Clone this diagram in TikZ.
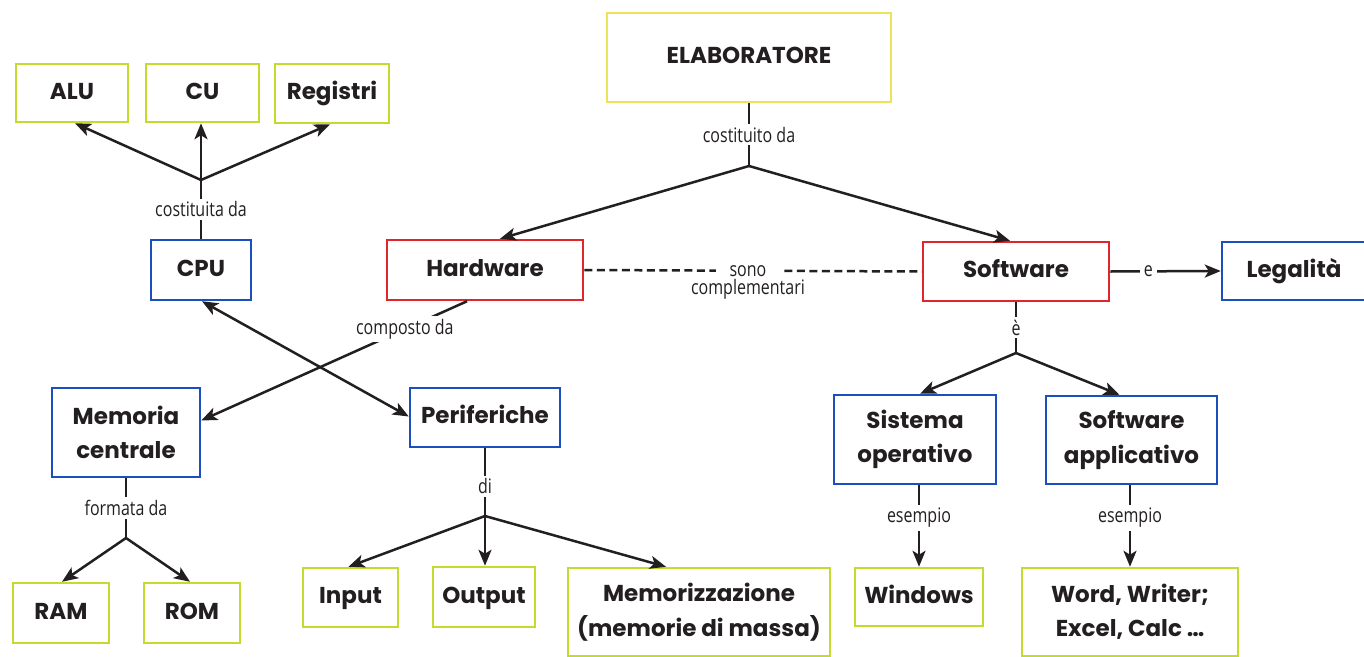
\documentclass[tikz,border=0pt]{standalone}
\usepackage{fontspec}
\setmainfont{Poppins}
\newfontfamily\lblfont{Open Sans}[FakeStretch=0.8]
\usetikzlibrary{arrows.meta,calc}
\definecolor{ink}{HTML}{231F20}
\definecolor{yel}{HTML}{EDE35A}
\definecolor{lime}{HTML}{C5DA2E}
\definecolor{blu}{HTML}{1B4FBF}
\definecolor{rd}{HTML}{E0262A}
\begin{document}
\begin{tikzpicture}[x=1pt,y=-1pt,
  box/.style={draw, line width=2.5pt, fill=white, align=center, inner sep=0pt,
    font=\fontsize{23}{34.5}\selectfont\bfseries, text=ink},
  one/.style={text height=17pt, text depth=5pt},
  ybox/.style={box, draw=yel},
  gbox/.style={box, draw=lime},
  bbox/.style={box, draw=blu},
  rbox/.style={box, draw=rd},
  lbl/.style={fill=white, inner xsep=3pt, inner ysep=3pt, text=ink,
    font=\lblfont\fontsize{20}{24}\selectfont},
  ln/.style={line width=2.5pt, draw=ink},
  arr/.style={ln, -{Stealth[length=16pt,width=13pt,inset=4pt]}},
  dbl/.style={ln, {Stealth[length=16pt,width=13pt,inset=4pt]}-{Stealth[length=16pt,width=13pt,inset=4pt]}}]
\useasboundingbox (0,0) rectangle (1364,656);
\fill[white] (0,0) rectangle (1364,656);

% nodes
\node[ybox, one, minimum width=284, minimum height=89] (elab) at (749,57.5) {ELABORATORE};
\node[rbox, one, minimum width=196, minimum height=60] (hw) at (485,270) {Hardware};
\node[rbox, one, minimum width=186, minimum height=59] (sw) at (1016,271.5) {Software};
\node[bbox, one, minimum width=144, minimum height=58] (leg) at (1294,271) {Legalità};
\node[bbox, minimum width=162, minimum height=89] (so) at (915,439.5) {Sistema\\operativo};
\node[bbox, minimum width=171, minimum height=88] (sa) at (1131.5,440) {Software\\applicativo};
\node[gbox, one, minimum width=128, minimum height=58] (win) at (919,597) {Windows};
\node[gbox, minimum width=216, minimum height=88] (word) at (1130,612) {Word, Writer;\\Excel, Calc \ldots};
\node[gbox, one, minimum width=112, minimum height=58] (alu) at (72,93) {ALU};
\node[gbox, one, minimum width=113, minimum height=58] (cu) at (202.5,93) {CU};
\node[gbox, one, minimum width=114, minimum height=59] (reg) at (332,93.5) {Registri};
\node[bbox, one, minimum width=100, minimum height=60] (cpu) at (201,270) {CPU};
\node[bbox, minimum width=148, minimum height=89] (mc) at (126,432.5) {Memoria\\centrale};
\node[bbox, one, minimum width=150, minimum height=59] (per) at (485,417.5) {Periferiche};
\node[gbox, one, minimum width=96, minimum height=60] (ram) at (61,613) {RAM};
\node[gbox, one, minimum width=96, minimum height=60] (rom) at (192,613) {ROM};
\node[gbox, one, minimum width=95, minimum height=59] (inp) at (350.5,597.5) {Input};
\node[gbox, one, minimum width=102, minimum height=60] (out) at (484,597) {Output};
\node[gbox, minimum width=262, minimum height=88] (mem) at (699,612) {Memorizzazione\\(memorie di massa)};

% junctions
\coordinate (j1) at (749,166);
\coordinate (j2) at (1016,353);
\coordinate (j3) at (201,180);
\coordinate (j4) at (126,538);
\coordinate (j5) at (485,516);

% top
\draw[ln] (elab.south) -- node[lbl]{costituito da} (j1);
\draw[arr] (j1) -- ($(hw.north)+(15,0)$);
\draw[arr] (j1) -- ($(sw.north)+(-6,0)$);
\draw[ln, dash pattern=on 8pt off 4.5pt] (hw.east) -- node[lbl, pos=0.485, inner xsep=14pt, inner ysep=1pt] (sono) {sono} (sw.west);
\node[lbl, fill=none, anchor=north, inner ysep=1pt] (compl) at (sono.south) {complementari};
\draw[arr] (sw.east) -- node[lbl, pos=0.345, inner xsep=4pt]{e} (leg.west);
\draw[ln] (sw.south) -- node[lbl]{è} (j2);
\draw[arr] (j2) -- ($(so.north)+(5,0)$);
\draw[arr] (j2) -- ($(sa.north)+(-12,0)$);
\draw[arr] (so.south -| win.north) -- node[lbl, pos=0.4]{esempio} (win.north);
\draw[arr] (sa.south -| word.north) -- node[lbl, pos=0.4]{esempio} (word.north);

% left
\draw[ln] (cpu.north) -- node[lbl]{costituita da} (j3);
\draw[arr] (j3) -- ($(alu.south)+(3,0)$);
\draw[arr] (j3) -- (cu.south -| j3);
\draw[arr] (j3) -- ($(reg.south)+(-2,0)$);
\draw[dbl] ($(cpu.south)+(1,0)$) -- ($(per.west)+(0,-1)$);
\draw[arr] ($(hw.south)+(-18,0)$) -- node[lbl, pos=0.234, inner xsep=2pt]{composto da} ($(mc.east)+(0,-12)$);
\draw[ln] (mc.south) -- node[lbl]{formata da} (j4);
\draw[arr] (j4) -- ($(ram.north)+(1,0)$);
\draw[arr] (j4) -- ($(rom.north)+(-2,0)$);
\draw[ln] (per.south) -- node[lbl, pos=0.56]{di} (j5);
\draw[arr] (j5) -- ($(inp.north)+(-2,0)$);
\draw[arr] (j5) -- (out.north -| j5);
\draw[arr] (j5) -- ($(mem.north)+(-33,0)$);
\end{tikzpicture}
\end{document}
